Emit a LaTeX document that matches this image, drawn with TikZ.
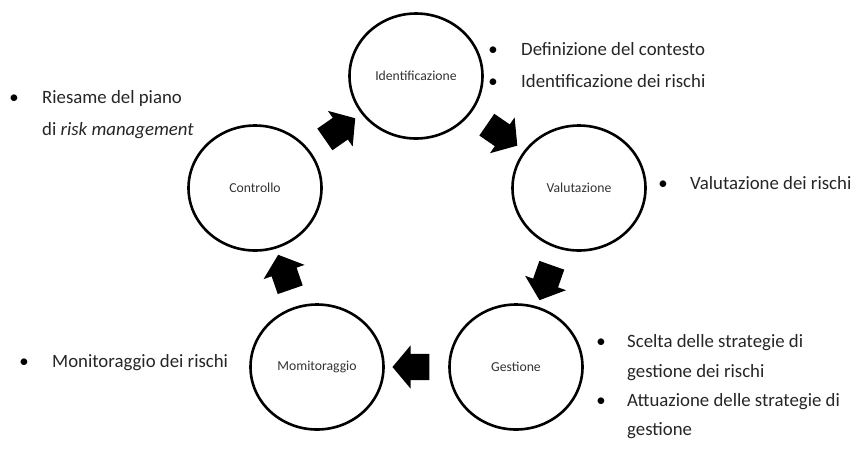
\documentclass[tikz,border=0pt]{standalone}
\usepackage{fontspec}
\setmainfont{Carlito}
\usetikzlibrary{shapes.geometric,shapes.arrows}
\begin{document}
\begin{tikzpicture}[x=1pt,y=-1pt,
  phase/.style={ellipse, draw=black, line width=2.6pt, minimum width=133pt, minimum height=125pt, inner sep=0pt, font=\fontsize{13.7}{16}\selectfont, text=black!80},
  blockarrow/.style={single arrow, fill=black, draw=none, minimum height=37pt, single arrow head extend=8.5pt, single arrow tip angle=100, inner sep=0pt},
  item/.style={anchor=base west, inner sep=0pt, font=\fontsize{18.8}{22}\selectfont, text=black!85},
  bul/.style={anchor=base, inner sep=0pt, font=\fontsize{18.8}{22}\selectfont, text=black}]
\useasboundingbox[fill=white] (0,0) rectangle (859,448);

% phases
\node[phase] (ide) at (416,76) {Identificazione};
\node[phase] (val) at (579,188) {Valutazione};
\node[phase] (ges) at (516,367) {Gestione};
\node[phase] (mon) at (317,367) {Momitoraggio};
\node[phase] (con) at (255,188) {Controllo};

% block arrows
\newcommand{\shaft}{\rule{0pt}{26pt}}
\path (con) -- (ide) node[midway, sloped, allow upside down, blockarrow] (a1) {\shaft};
\path (ide) -- (val) node[midway, sloped, allow upside down, blockarrow] (a2) {\shaft};
\path (val) -- (ges) node[midway, sloped, allow upside down, blockarrow] (a3) {\shaft};
\path (ges) -- (mon) node[midway, sloped, allow upside down, blockarrow] (a4) {\shaft};
\path (mon) -- (con) node[midway, sloped, allow upside down, blockarrow] (a5) {\shaft};

% Identificazione bullets
\node[bul] (b1) at (493,55) {•};
\node[item] (t1) at (521,55) {Definizione del contesto};
\node[bul] (b2) at (493,87) {•};
\node[item] (t2) at (521,87) {Identificazione dei rischi};

% Valutazione bullet
\node[bul] (b3) at (663,189) {•};
\node[item] (t3) at (690,189) {Valutazione dei rischi};

% Controllo bullet
\node[bul] (b4) at (14,103) {•};
\node[item] (t4) at (42,103) {Riesame del piano};
\node[item] (t5) at (42,135) {di \textit{risk management}};

% Monitoraggio bullet
\node[bul] (b5) at (24,367) {•};
\node[item] (t6) at (52,367) {Monitoraggio dei rischi};

% Gestione bullets
\node[bul] (b6) at (601,347) {•};
\node[item] (t7) at (627,347) {Scelta delle strategie di};
\node[item] (t8) at (627,377) {gestione dei rischi};
\node[bul] (b7) at (601,406) {•};
\node[item] (t9) at (627,406) {Attuazione delle strategie di};
\node[item] (t10) at (627,435) {gestione};
\end{tikzpicture}
\end{document}
